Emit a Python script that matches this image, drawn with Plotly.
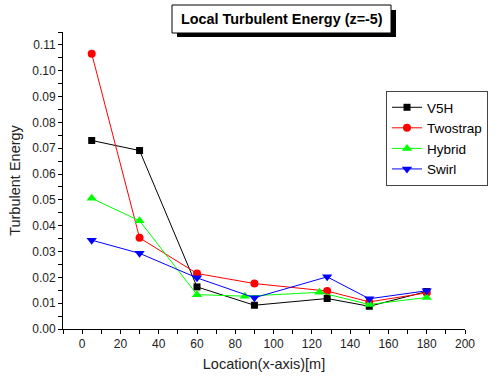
import plotly.graph_objects as go

x_main = [5, 30, 60, 90, 128, 150, 180]
x_hybrid = [5, 30, 60, 85, 124, 150, 180]
v5h = [0.0730, 0.0691, 0.0163, 0.0092, 0.0118, 0.0088, 0.0145]
twostrap = [0.1066, 0.0353, 0.0215, 0.0176, 0.0147, 0.0105, 0.0140]
hybrid = [0.0506, 0.0419, 0.0133, 0.0127, 0.0142, 0.0095, 0.0122]
swirl = [0.0344, 0.0293, 0.0198, 0.0121, 0.0202, 0.0117, 0.0148]

x_ticks = [0, 20, 40, 60, 80, 100, 120, 140, 160, 180, 200]
y_ticks = [0.00, 0.01, 0.02, 0.03, 0.04, 0.05, 0.06, 0.07, 0.08, 0.09, 0.10, 0.11]

W, H = 502, 383
L, R, T, B = 63, 37, 32, 54
pw, ph = W - L - R, H - T - B

def px(xp):
    return (xp - L) / pw

def py(yp):
    return (H - B - yp) / ph

fig = go.Figure()
series = [
    ("V5H", x_main, v5h, "black", "square", 7),
    ("Twostrap", x_main, twostrap, "red", "circle", 8),
    ("Hybrid", x_hybrid, hybrid, "#00ff00", "triangle-up", 9),
    ("Swirl", x_main, swirl, "blue", "triangle-down", 9),
]
for name, xs, ys, col, sym, sz in series:
    fig.add_trace(go.Scatter(
        x=xs, y=ys, name=name, mode="lines+markers",
        line=dict(color=col, width=1),
        marker=dict(color=col, symbol=sym, size=sz),
    ))

axis_common = dict(
    showgrid=False, zeroline=False, showline=True, linecolor="black", linewidth=1,
    ticks="outside", ticklen=4, tickcolor="black", tickwidth=1,
    tickfont=dict(family="Liberation Sans, Arial", size=12, color="#222"),
)
fig.update_xaxes(
    range=[-10, 200], tickvals=x_ticks, ticktext=[str(v) for v in x_ticks],
    minor=dict(dtick=10, tick0=0, ticks="outside", ticklen=4, tickcolor="black"),
    title=dict(text="Location(x-axis)[m]", standoff=8,
               font=dict(family="Liberation Sans, Arial", size=14.5, color="#222")),
    **axis_common,
)
fig.update_yaxes(
    range=[0, 0.115], tickvals=y_ticks, ticktext=["%.2f" % v for v in y_ticks],
    minor=dict(dtick=0.005, tick0=0, ticks="outside", ticklen=4, tickcolor="black"),
    title=dict(text="Turbulent Energy", standoff=8,
               font=dict(family="Liberation Sans, Arial", size=14.5, color="#222")),
    **axis_common,
)

# title box with shadow
fig.add_shape(type="rect", xref="paper", yref="paper",
              x0=px(177), x1=px(396), y0=py(37), y1=py(10),
              fillcolor="black", line=dict(width=0))
fig.add_shape(type="rect", xref="paper", yref="paper",
              x0=px(172), x1=px(391), y0=py(33), y1=py(5),
              fillcolor="white", line=dict(color="black", width=1))
fig.add_annotation(text="<b>Local Turbulent Energy (z=-5)</b>", xref="paper", yref="paper",
                   x=px(281.5), y=py(19.5), showarrow=False, xanchor="center", yanchor="middle",
                   font=dict(family="Liberation Sans, Arial", size=14.4, color="black"))

fig.update_layout(
    width=W, height=H, margin=dict(l=L, r=R, t=T, b=B),
    paper_bgcolor="white", plot_bgcolor="white",
    showlegend=True,
    legend=dict(x=px(386), y=py(91), xanchor="left", yanchor="top",
                bordercolor="#444", borderwidth=1, bgcolor="white",
                font=dict(family="Liberation Sans, Arial", size=13.5, color="black"),
                tracegroupgap=0, itemsizing="trace"),
)

fig.write_html("out.html")
